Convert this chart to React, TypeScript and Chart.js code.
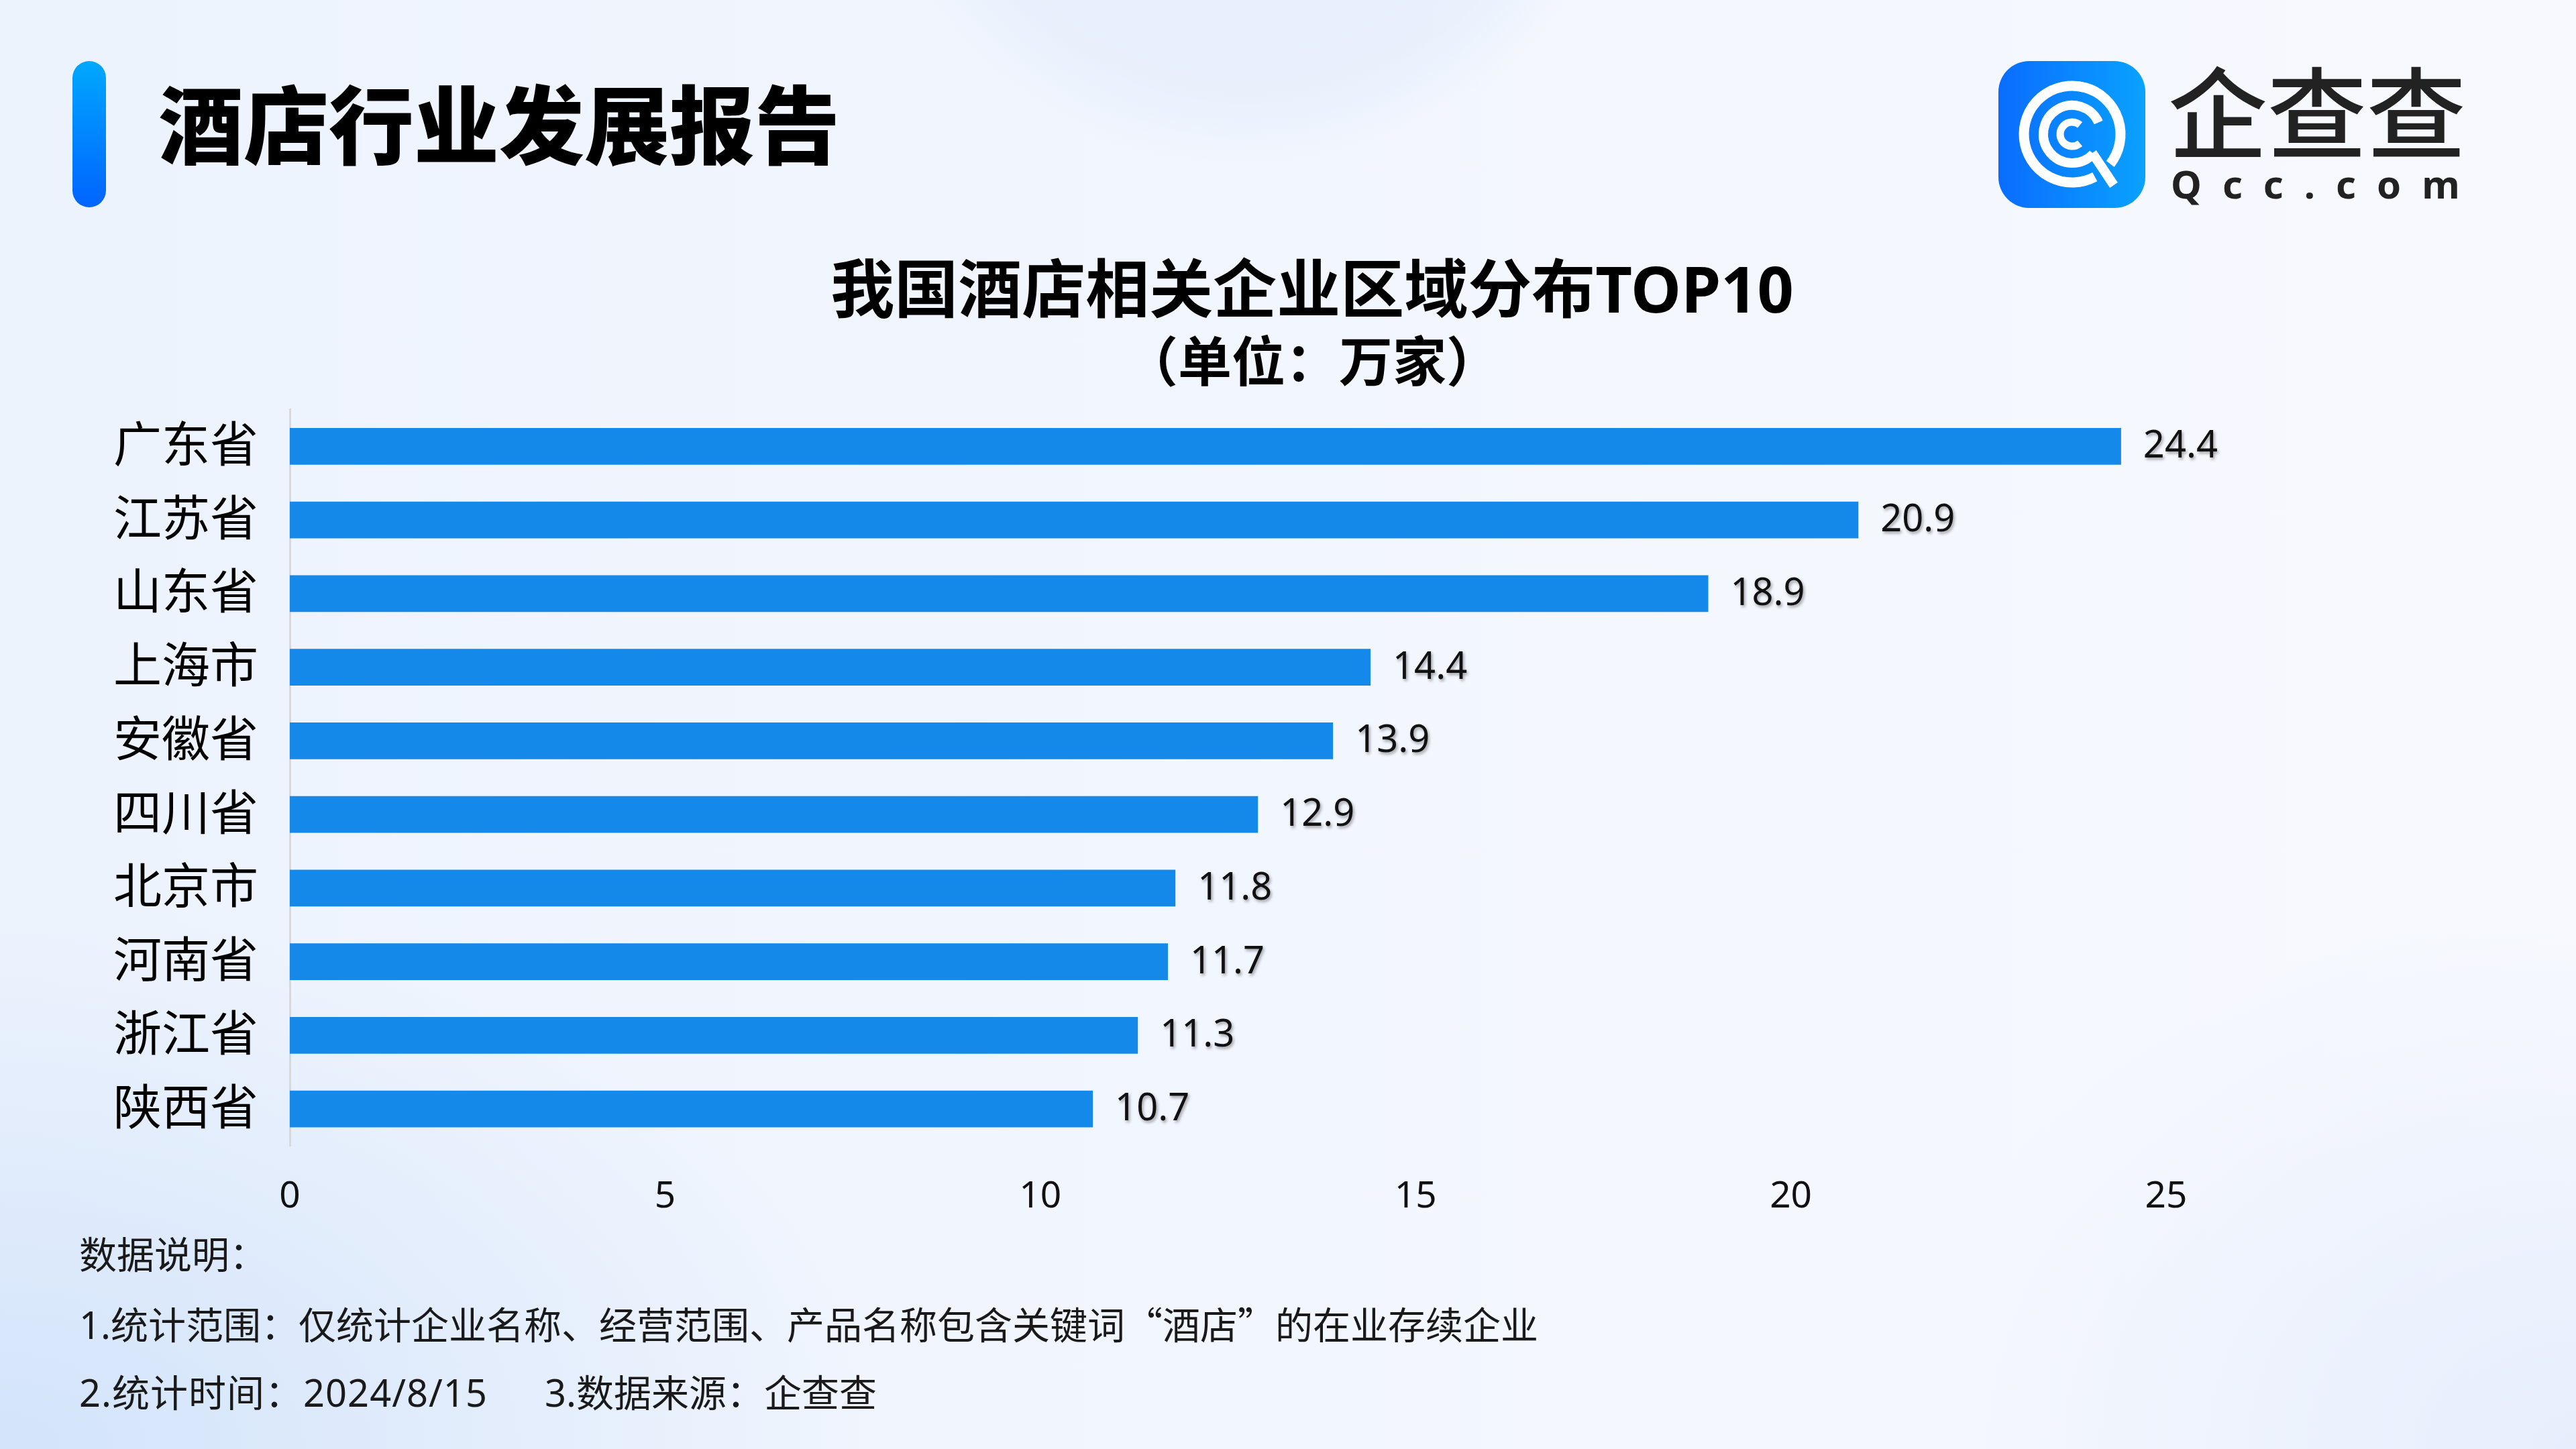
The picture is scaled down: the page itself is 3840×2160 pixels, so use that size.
import React, { useEffect, useRef } from "react";
import { Chart, registerables } from "chart.js";

Chart.register(...registerables);

const categories = ["广东省", "江苏省", "山东省", "上海市", "安徽省", "四川省", "北京市", "河南省", "浙江省", "陕西省"];
const values = [24.4, 20.9, 18.9, 14.4, 13.9, 12.9, 11.8, 11.7, 11.3, 10.7];
const xMin = 0;
const xMax = 25;
const xStep = 5;

const chartTitle = "我国酒店相关企业区域分布TOP10";
const chartSubtitle = "（单位：万家）";
const headerTitle = "酒店行业发展报告";
const notesTitle = "数据说明：";
const note1a = "1.统计范围：仅统计企业名称、经营范围、产品名称包含关键词";
const note1b = "“酒店”";
const note1c = "的在业存续企业";
const note2a = "2.统计时间：2024/8/15";
const note2b = "3.数据来源：企查查";

const FONT = '"Noto Sans", "Noto Sans CJK SC", sans-serif';
const CJK = '"Noto Sans CJK SC", "Noto Sans", sans-serif';
const BAR_COLOR = "#1589EA";

const valueLabelPlugin = {
  id: "valueLabels",
  afterDatasetsDraw(chart: any) {
    const { ctx } = chart;
    const meta = chart.getDatasetMeta(0);
    const ds = chart.data.datasets[0];
    ctx.save();
    ctx.font = `56px ${FONT}`;
    ctx.fillStyle = "#111";
    ctx.textAlign = "left";
    ctx.textBaseline = "middle";
    ctx.shadowColor = "rgba(0,0,0,0.35)";
    ctx.shadowOffsetX = 2;
    ctx.shadowOffsetY = 3;
    ctx.shadowBlur = 4;
    meta.data.forEach((el: any, i: number) => {
      ctx.fillText(Number(ds.data[i]).toFixed(1), el.x + 33, el.y + 1);
    });
    ctx.restore();
  },
};

function arcPath(cx: number, cy: number, r: number, a0: number, a1: number) {
  const rad = (d: number) => (d * Math.PI) / 180;
  const x0 = cx + r * Math.cos(rad(a0));
  const y0 = cy + r * Math.sin(rad(a0));
  const x1 = cx + r * Math.cos(rad(a1));
  const y1 = cy + r * Math.sin(rad(a1));
  const large = a1 - a0 > 180 ? 1 : 0;
  return `M ${x0} ${y0} A ${r} ${r} 0 ${large} 1 ${x1} ${y1}`;
}

function Logo() {
  const cx = 110;
  const cy = 109;
  return (
    <svg width={219} height={219} viewBox="0 0 219 219" style={{ position: "absolute", left: 2979, top: 91 }}>
      <defs>
        <linearGradient id="lg" x1="0" y1="0" x2="1" y2="0">
          <stop offset="0" stopColor="#0a6cff" />
          <stop offset="1" stopColor="#0aa2ff" />
        </linearGradient>
      </defs>
      <rect x={0} y={0} width={219} height={219} rx={46} fill="url(#lg)" />
      <path d={arcPath(cx, cy, 72, 62, 398)} stroke="#fff" strokeWidth={15} fill="none" />
      <path d={arcPath(cx, cy, 43, 43, 336)} stroke="#fff" strokeWidth={14} fill="none" />
      <path d={arcPath(cx, cy, 18, 50, 310)} stroke="#fff" strokeWidth={11} fill="none" />
      <line x1={cx + 30} y1={cy + 28} x2={cx + 62} y2={cy + 76} stroke="#fff" strokeWidth={14} />
    </svg>
  );
}

export default function App() {
  const canvasRef = useRef<HTMLCanvasElement | null>(null);

  useEffect(() => {
    if (!canvasRef.current) return;
    const chart = new Chart(canvasRef.current, {
      type: "bar",
      data: {
        labels: categories,
        datasets: [
          {
            data: values,
            backgroundColor: BAR_COLOR,
            borderWidth: 0,
            barPercentage: 0.5,
            categoryPercentage: 1,
          },
        ],
      },
      options: {
        indexAxis: "y",
        responsive: false,
        animation: false,
        layout: { padding: { top: 300, bottom: 302, left: 0, right: 0 } },
        plugins: {
          legend: { display: false },
          tooltip: { enabled: false },
          title: {
            display: true,
            text: chartTitle,
            color: "#000",
            font: { family: FONT, size: 95, weight: "bold", lineHeight: 1.1 },
            padding: { top: 87, bottom: 0 },
          },
          subtitle: {
            display: true,
            text: chartSubtitle,
            color: "#000",
            font: { family: CJK, size: 80, weight: "bold", lineHeight: 1.15 },
            padding: { top: 0, bottom: 27 },
          },
        },
        scales: {
          x: {
            type: "linear",
            position: "bottom",
            min: xMin,
            max: xMax,
            grid: { display: false },
            border: { display: false },
            ticks: {
              stepSize: xStep,
              color: "#111",
              padding: 35,
              font: { family: FONT, size: 55 },
            },
            afterFit: (s: any) => {
              s.height = 150;
            },
          },
          y: {
            type: "category",
            position: "left",
            grid: { display: false },
            border: { display: true, color: "#d9d9d9", width: 3 },
            ticks: {
              color: "#000",
              padding: 39,
              labelOffset: 2,
              font: { family: FONT, size: 72 },
            },
            afterFit: (s: any) => {
              s.width = 432;
            },
          },
          yRight: {
            type: "linear",
            position: "right",
            display: true,
            grid: { display: false },
            border: { display: false },
            ticks: { display: false },
            afterFit: (s: any) => {
              s.width = 683;
            },
          },
        },
      } as any,
      plugins: [valueLabelPlugin],
    });
    return () => chart.destroy();
  }, []);

  const bg = [
    "radial-gradient(circle 580px at 1860px -330px, rgba(226,236,252,0.85) 0%, rgba(228,237,252,0.6) 82%, rgba(228,237,252,0) 100%)",
    "radial-gradient(ellipse 1300px 800px at 0px 2160px, rgba(206,225,250,0.85) 0%, rgba(206,225,250,0) 100%)",
    "radial-gradient(ellipse 1000px 800px at 3840px 2160px, rgba(226,235,252,0.8) 0%, rgba(226,235,252,0) 100%)",
    "linear-gradient(90deg, #edf3fd 0%, #f2f6fe 50%, #f7f9fe 100%)",
  ].join(", ");

  return (
    <div
      style={{
        position: "absolute",
        left: 0,
        top: 0,
        width: 3840,
        height: 2160,
        overflow: "hidden",
        background: bg,
      }}
    >
      <canvas
        ref={canvasRef}
        width={3912}
        height={2160}
        style={{ position: "absolute", left: 0, top: 0, width: 3912, height: 2160 }}
      />
      <div
        style={{
          position: "absolute",
          left: 108,
          top: 91,
          width: 50,
          height: 218,
          borderRadius: 25,
          background: "linear-gradient(180deg, #00a8ff 0%, #0064ff 100%)",
        }}
      />
      <div
        style={{
          position: "absolute",
          left: 236,
          top: 117,
          fontFamily: CJK,
          fontSize: 127,
          lineHeight: "127px",
          fontWeight: 900,
          color: "#000",
          whiteSpace: "nowrap",
        }}
      >
        {headerTitle}
      </div>
      <Logo />
      <div
        style={{
          position: "absolute",
          left: 3232,
          top: 87,
          fontFamily: CJK,
          fontSize: 148,
          lineHeight: "148px",
          fontWeight: 500,
          color: "#222",
          whiteSpace: "nowrap",
        }}
      >
        企查查
      </div>
      <div
        style={{
          position: "absolute",
          left: 3236,
          top: 245,
          fontFamily: FONT,
          fontSize: 58,
          lineHeight: "58px",
          fontWeight: 700,
          letterSpacing: 31,
          color: "#222",
          whiteSpace: "nowrap",
        }}
      >
        Qcc.com
      </div>
      <div
        style={{
          position: "absolute",
          left: 118,
          top: 1819,
          fontFamily: FONT,
          fontSize: 56,
          lineHeight: "101.5px",
          color: "#1a1a1a",
          whiteSpace: "nowrap",
        }}
      >
        <div>{notesTitle}</div>
        <div>
          {note1a}
          <span style={{ fontFamily: CJK }}>{note1b}</span>
          {note1c}
        </div>
        <div>
          <span style={{ letterSpacing: 1 }}>{note2a}</span>
          <span style={{ marginLeft: 85 }}>{note2b}</span>
        </div>
      </div>
    </div>
  );
}
